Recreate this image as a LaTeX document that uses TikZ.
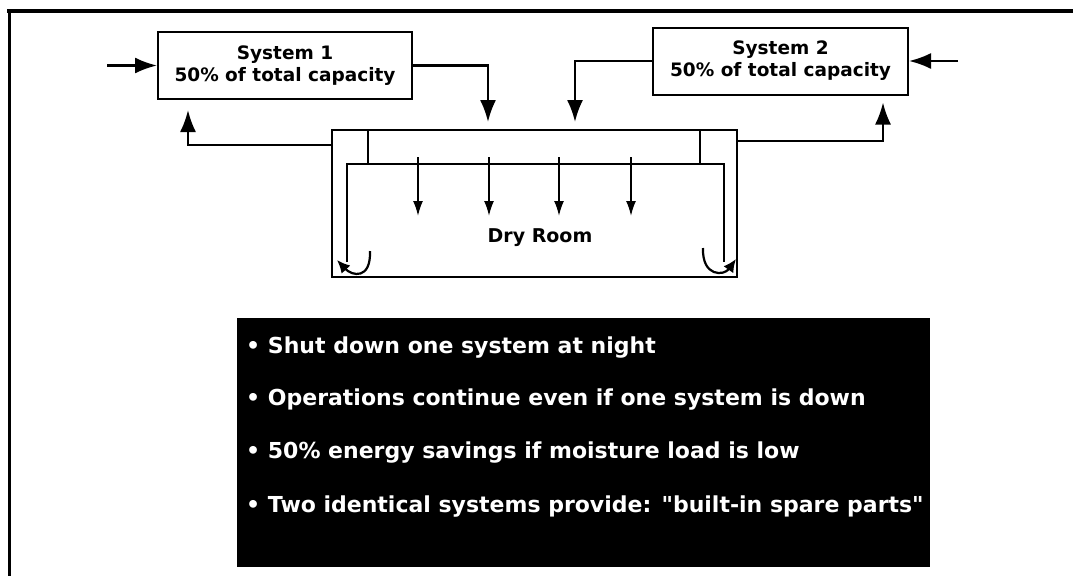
\documentclass[tikz,border=0pt]{standalone}
\usepackage{fontspec}
\setmainfont{DejaVu Sans}
\usetikzlibrary{arrows.meta}

\begin{document}
\begin{tikzpicture}[x=1pt, y=-1pt,
        box/.style={draw, line width=2pt, minimum width=254pt, minimum height=67pt, inner sep=0pt, align=center, font=\fontsize{18.5}{22}\selectfont\bfseries},
        flow/.style={line width=2.2pt, -{Latex[length=22pt, width=16pt]}},
        jet/.style={line width=1.8pt, -{Latex[length=15pt, width=10pt]}},
        swirl/.style={line width=2.2pt, -{Latex[length=13pt, width=12pt]}},
        duct/.style={line width=2pt},
        point/.style={anchor=west, inner sep=2pt, text=white, font=\fontsize{22}{26}\selectfont\bfseries}]
    \useasboundingbox (0,0) rectangle (1073,576);
    \draw[line width=3.5pt] (7,11) -- (1073,11);
    \draw[line width=3pt] (9,11) -- (9,576);

    \node[box] (sys1) at (285,65.5) {System 1\\50\% of total capacity};
    \node[box, minimum width=255pt] (sys2) at (780.5,61) {System 2\\50\% of total capacity};
    \node[draw, duct, minimum width=405pt, minimum height=147pt, inner sep=0pt] (room) at (534.5,203.5) {};
    \node[font=\fontsize{19}{22}\selectfont\bfseries] (roomlabel) at (540,238) {Dry Room};
    \coordinate (in1) at (107,65.5);
    \coordinate (in2) at (958,61);

    \draw[flow] (in1) -- (sys1.west);
    \draw[flow] (in2) -- (sys2.east);
    \draw[flow, shorten >=7pt] (sys1.east) -| ([xshift=-46.5pt]room.north);
    \draw[flow, shorten >=7pt] (sys2.west) -| ([xshift=40.5pt]room.north);
    \draw[flow, shorten >=10pt] ([yshift=-16pt]room.north west) -| ([xshift=31pt]sys1.south west);
    \draw[flow, shorten >=7pt] ([yshift=-12pt]room.north east) -| ([xshift=-26pt]sys2.south east);

    \draw[duct] (368,130) -- (368,164);
    \draw[duct] (700,130) -- (700,164);
    \draw[duct] (347,262) -- (347,164) -- (724,164) -- (724,262);
    \foreach \x in {418,489,559,631}
        \draw[jet] (\x,157) -- (\x,216);
    \draw[swirl] (370,251) .. controls (371,280) and (352,276) .. (337,260);
    \draw[swirl] (703,248) .. controls (702,277) and (724,276) .. (736,259);

    \node[fill=black, minimum width=693pt, minimum height=249pt, inner sep=0pt] (panel) at (583.5,442.5) {};
    \node[point] (pt1) at (244,348) {• Shut down one system at night};
    \node[point] (pt2) at (244,400) {• Operations continue even if one system is down};
    \node[point] (pt3) at (244,453) {• 50\% energy savings if moisture load is low};
    \node[point] (pt4) at (244,507) {• Two identical systems provide: \textquotedbl built-in spare parts\textquotedbl};
\end{tikzpicture}
\end{document}
